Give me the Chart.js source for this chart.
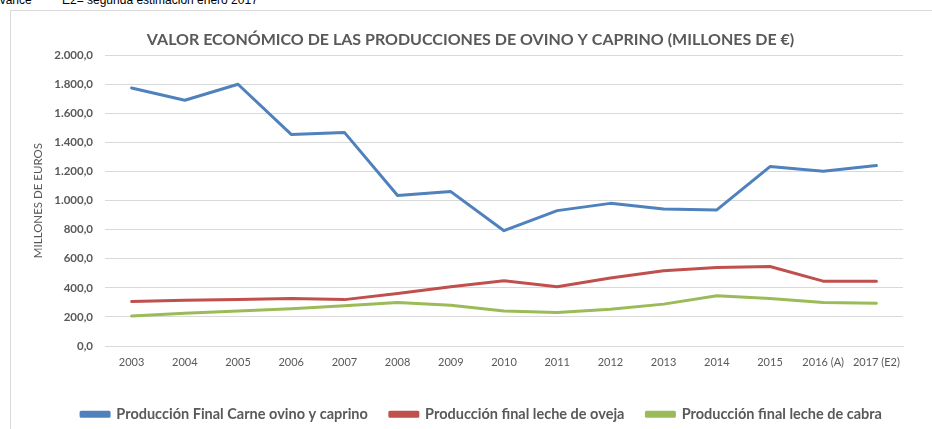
<!DOCTYPE html>
<html>
<head>
<meta charset="utf-8">
<script src="https://cdn.jsdelivr.net/npm/chart.js@4.4.1/dist/chart.umd.min.js"></script>
<style>
  html, body { margin: 0; padding: 0; background: #fff; overflow: hidden; }
  #wrap { position: relative; width: 932px; height: 429px; overflow: hidden; }
  #frame { position: absolute; left: 10px; top: 10px; width: 1000px; height: 1000px; border: 1px solid #d9d9d9; box-sizing: border-box; }
  .note { position: absolute; top: -7px; font-family: "Liberation Sans", Arial, sans-serif; font-size: 12px; color: #000; white-space: nowrap; }
  canvas { position: absolute; left: 0; top: 0; }
</style>
</head>
<body>
<div id="wrap">
  <div id="frame"></div>
  <span class="note" style="left:-7px">avance</span>
  <span class="note" style="left:62px">E2= segunda estimación enero 2017</span>
  <canvas id="c" width="932" height="429"></canvas>
</div>
<script>
const categories = ["2003","2004","2005","2006","2007","2008","2009","2010","2011","2012","2013","2014","2015","2016 (A)","2017 (E2)"];
const carneOvinoCaprino = [1775, 1690, 1800, 1455, 1469, 1035, 1062, 793, 931, 981, 943, 936, 1234, 1202, 1241];
const lecheOveja = [306, 315, 319, 326, 319, 361, 407, 448, 407, 467, 517, 540, 547, 446, 446];
const lecheCabra = [207, 225, 241, 257, 276, 299, 281, 241, 230, 253, 288, 345, 326, 299, 294];
const seriesNames = ["Producción Final Carne ovino y caprino", "Producción final leche de oveja", "Producción final leche de cabra"];
const chartTitle = "VALOR ECONÓMICO DE LAS PRODUCCIONES DE OVINO Y CAPRINO (MILLONES DE €)";
const yAxisTitle = "MILLONES DE EUROS";

function fmt(v) {
  const s = Math.round(v).toString();
  const withDots = s.replace(/\B(?=(\d{3})+(?!\d))/g, ".");
  return withDots + ",0";
}

const FONT = "Lato, 'Open Sans', sans-serif";
const GRAY = "#595959";

const shiftPlugin = {
  id: "shiftBoxes",
  afterLayout(chart) {
    if (chart.legend) { chart.legend.left += 30; chart.legend.right += 30; }
    if (chart.titleBlock) { chart.titleBlock.left += 19; chart.titleBlock.right += 19; }
  }
};

new Chart(document.getElementById("c"), {
  type: "line",
  data: {
    labels: categories,
    datasets: [
      { label: seriesNames[0], data: carneOvinoCaprino, borderColor: "#4f81bd", backgroundColor: "#4f81bd" },
      { label: seriesNames[1], data: lecheOveja, borderColor: "#c0504d", backgroundColor: "#c0504d" },
      { label: seriesNames[2], data: lecheCabra, borderColor: "#9bbb59", backgroundColor: "#9bbb59" }
    ]
  },
  options: {
    responsive: false,
    animation: false,
    events: [],
    layout: { padding: { left: 0, right: 29, top: 0, bottom: -2.5 } },
    elements: {
      line: { borderWidth: 3, tension: 0, borderCapStyle: "round", borderJoinStyle: "round" },
      point: { radius: 0 }
    },
    plugins: {
      title: {
        display: true,
        text: chartTitle,
        color: GRAY,
        font: { family: FONT, size: 16, weight: "bold", lineHeight: 1.2 },
        padding: { top: 30, bottom: 6 }
      },
      legend: {
        position: "bottom",
        labels: {
          color: GRAY,
          font: { family: FONT, size: 14.5, weight: "bold" },
          boxWidth: 28,
          boxHeight: 4,
          padding: 22
        }
      },
      tooltip: { enabled: false }
    },
    scales: {
      x: {
        offset: true,
        grid: { display: false, drawTicks: false },
        border: { display: true, color: "#d9d9d9", width: 1 },
        ticks: { color: GRAY, font: { family: FONT, size: 11 }, padding: 10, maxRotation: 0, autoSkip: false },
        afterFit(scale) { scale.height = 39; }
      },
      y: {
        min: 0,
        max: 2000,
        grid: { color: "#d9d9d9", drawTicks: false },
        border: { display: false },
        ticks: { stepSize: 200, color: GRAY, font: { family: FONT, size: 11.5, weight: "bold" }, padding: 12, callback: (v) => fmt(v) },
        title: { display: true, text: yAxisTitle, color: GRAY, font: { family: FONT, size: 11.5 }, padding: { top: 31, bottom: 0 } },
        afterFit(scale) { scale.width = 105; }
      }
    }
  },
  plugins: [shiftPlugin]
});
</script>
</body>
</html>
